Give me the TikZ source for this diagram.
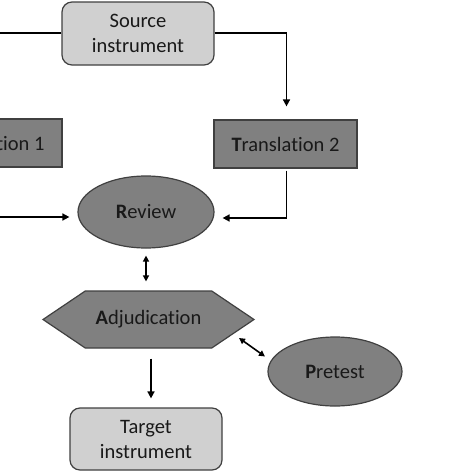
\documentclass[tikz,border=0pt]{standalone}
\usepackage{fontspec}
\setmainfont{Carlito}[Ligatures=NoCommon]
\usetikzlibrary{shapes.geometric,shapes.symbols,arrows.meta,calc}
\definecolor{lightbox}{HTML}{D0D0D0}
\definecolor{darkbox}{HTML}{808080}
\definecolor{edge}{HTML}{404040}
\tikzset{
  x=1pt, y=-1pt,
  every node/.style={font=\fontsize{20.5}{25}\selectfont, text=black!90, inner sep=0pt, align=center},
  instr/.style={draw=edge, line width=1.2pt, fill=lightbox, rounded corners=10pt, minimum width=152pt, minimum height=63pt},
  transl/.style={draw=edge, line width=1.2pt, fill=darkbox, minimum width=143pt, minimum height=48pt},
  oval/.style={ellipse, draw=edge, line width=1.2pt, fill=darkbox},
  conn/.style={line width=1.6pt, black, -{Triangle[length=7pt,width=7pt]}},
  dconn/.style={line width=1.6pt, black, {Triangle[length=6pt,width=6pt]}-{Triangle[length=6pt,width=6pt]}},
}
\begin{document}
\begin{tikzpicture}
\useasboundingbox (0,0) rectangle (474,474);
\begin{scope}
\clip (0,0) rectangle (474,474);
\node[instr] (src) at (138,33.5) {Source\\instrument};
\node[transl] (t1) at (-9.5,143) {\textbf{T}ranslation 1};
\node[transl] (t2) at (285.5,144) {\textbf{T}ranslation 2};
\node[oval, minimum width=136pt, minimum height=72pt] (rev) at (146,212) {\textbf{R}eview};
\node[signal, signal to=west and east, signal pointer angle=68, draw=edge, line width=1.2pt, fill=darkbox, minimum width=211pt, minimum height=57pt] (adj) at (148.5,319.5) {\textbf{A}djudication};
\node[oval, minimum width=134pt, minimum height=69pt] (pre) at (335,371.5) {\textbf{P}retest};
\node[instr, minimum height=62pt] (tgt) at (146,439) {Target\\instrument};
\coordinate (lftop) at (0,33);
\coordinate (lfrev) at (0,217);
\draw[line width=1.6pt] (src.west |- 0,33) -- (lftop);
\draw[conn] (src.east |- 0,33) -| ($(t2.north)+(1,-13)$);
\draw[conn] ($(t2.south)+(1,2)$) |- ($(rev.east)+(8,6)$);
\draw[conn] (lfrev) -- ($(rev.west)+(-8,5)$);
\draw[dconn] ($(rev.south)+(0,7)$) -- ($(adj.north)+(-2.5,-9)$);
\draw[conn] ($(adj.south)+(2.5,10)$) -- ($(tgt.north)+(5,-9)$);
\draw[dconn] (239,338) -- (265,356.5);
\end{scope}
\end{tikzpicture}
\end{document}
